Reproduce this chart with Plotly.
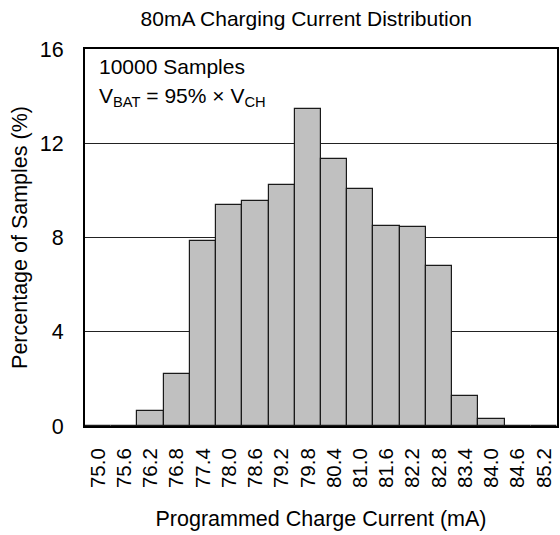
import plotly.graph_objects as go

categories = ["75.0", "75.6", "76.2", "76.8", "77.4", "78.0", "78.6", "79.2", "79.8",
              "80.4", "81.0", "81.6", "82.2", "82.8", "83.4", "84.0", "84.6", "85.2"]
percent = [0, 0, 0.65, 2.2, 7.87, 9.37, 9.53, 10.23, 13.46,
           11.35, 10.04, 8.48, 8.43, 6.79, 1.26, 0.29, 0, 0]
y_ticks = [0, 4, 8, 12, 16]

FONT = "Liberation Sans, Arial, sans-serif"

fig = go.Figure()
fig.add_trace(go.Bar(
    x=categories, y=percent,
    marker=dict(color="#c0c0c0", line=dict(color="#1a1a1a", width=1.2)),
    width=1.0,
))

fig.update_layout(
    width=560, height=535,
    margin=dict(l=85, r=1, t=49, b=109),
    paper_bgcolor="white", plot_bgcolor="white",
    font=dict(family=FONT, color="black", size=21),
    showlegend=False,
    bargap=0,
    title=dict(text="80mA Charging Current Distribution", x=0.547, xanchor="center",
               y=1 - 19/535, yanchor="middle", font=dict(size=21)),
    xaxis=dict(
        type="category", tickangle=-90, ticks="", showgrid=False,
        showline=True, linecolor="black", linewidth=2, mirror=True,
        tickfont=dict(size=20.5), ticklabelstandoff=12,
        title=dict(text="Programmed Charge Current (mA)", font=dict(size=21.5), standoff=24),
        range=[-0.5, 17.5],
    ),
    yaxis=dict(
        range=[0, 16], tickvals=y_ticks, ticks="", showgrid=True,
        gridcolor="#222222", gridwidth=1,
        showline=True, linecolor="black", linewidth=2, mirror=True,
        tickfont=dict(size=21.5), ticklabelstandoff=15, zeroline=False,
        title=dict(text="Percentage of Samples (%)", font=dict(size=21.5), standoff=6),
    ),
)

fig.add_annotation(xref="paper", yref="paper", x=12/474, y=1 - 18/377, xanchor="left", yanchor="middle",
                   text="10000 Samples", showarrow=False, font=dict(size=21))
fig.add_annotation(xref="paper", yref="paper", x=12/474, y=1 - 48/377, xanchor="left", yanchor="middle",
                   text="V<sub>BAT</sub> = 95% × V<sub>CH</sub>", showarrow=False, font=dict(size=21))

fig.write_html("out.html", config={"displayModeBar": False},
               post_script="document.body.style.margin='0';")
